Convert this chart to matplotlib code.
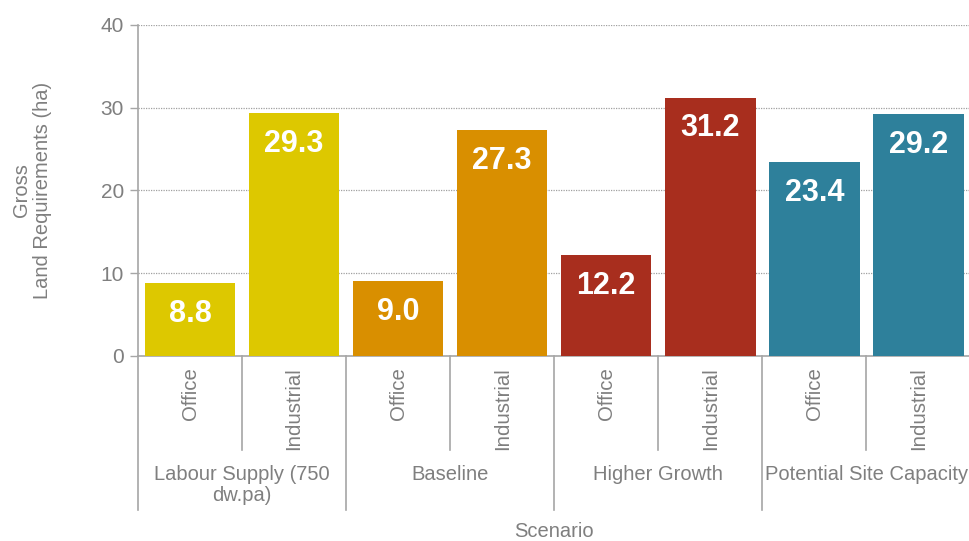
import matplotlib.pyplot as plt

# Data
scenarios = ["Labour Supply (750\ndw.pa)", "Baseline", "Higher Growth", "Potential Site Capacity"]
land_types = ["Office", "Industrial"]
values = [8.8, 29.3, 9.0, 27.3, 12.2, 31.2, 23.4, 29.2]
scenario_colors = ["#DDC800", "#D98F00", "#A82E1E", "#2E809B"]

plt.rcParams['font.family'] = ['Liberation Sans', 'DejaVu Sans']
grey = "#7F7F7F"
line_grey = "#A6A6A6"

fig = plt.figure(figsize=(9.69, 5.41), dpi=100)
ax = fig.add_axes([0.1424, 0.342, 0.859, 0.612])

x = list(range(len(values)))
colors = [c for c in scenario_colors for _ in land_types]
bars = ax.bar(x, values, width=0.87, color=colors, zorder=3)

for rect, v in zip(bars, values):
    ax.annotate(f"{v:.1f}", (rect.get_x() + rect.get_width() / 2, v),
                xytext=(0, -22), textcoords="offset points",
                ha="center", va="center", color="white",
                fontsize=22, fontweight="bold", zorder=4)

ax.set_xlim(-0.5, len(values) - 0.5)
ax.set_ylim(0, 40)
ax.set_yticks([0, 10, 20, 30, 40])
ax.yaxis.grid(True, linestyle=(0, (1, 1)), color="#A0A0A0", linewidth=0.9, zorder=0)
ax.tick_params(axis="y", colors=line_grey, labelcolor=grey, labelsize=15,
               length=6, width=1, direction="out", pad=4)
ax.set_xticks([])

for side in ["top", "right"]:
    ax.spines[side].set_visible(False)
for side in ["left", "bottom"]:
    ax.spines[side].set_color(line_grey)
    ax.spines[side].set_linewidth(1.2)

trans = ax.get_xaxis_transform()
# sub-category labels
for i in x:
    ax.text(i, -0.035, land_types[i % 2], transform=trans, rotation=90,
            ha="center", va="top", fontsize=14.7, color=grey)

# separators
for k in range(len(values) + 1):
    xpos = k - 0.5
    y_end = -0.465 if k % 2 == 0 else -0.284
    ax.plot([xpos, xpos], [0, y_end], transform=trans, color=line_grey,
            linewidth=1.2, clip_on=False)

# group labels
for g, name in enumerate(scenarios):
    ax.text(2 * g + 0.5, -0.328, name, transform=trans, ha="center", va="top",
            fontsize=14.5, color=grey, linespacing=1.15)

ax.set_xlabel("Scenario", fontsize=14.5, color=grey)
ax.xaxis.set_label_coords(0.5, -0.5)
ax.set_ylabel("Gross\nLand Requirements (ha)", fontsize=14.5, color=grey, linespacing=1.15)
ax.yaxis.set_label_coords(-0.103, 0.5)

fig.savefig("out.png", dpi=100)
